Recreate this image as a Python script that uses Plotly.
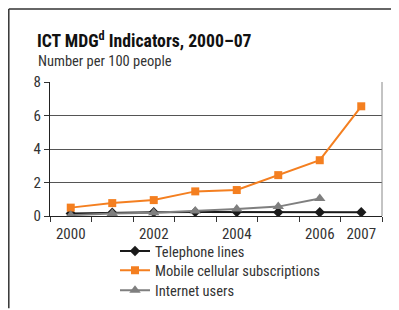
import plotly.graph_objects as go

years = [2000, 2001, 2002, 2003, 2004, 2005, 2006, 2007]
label_years = [2000, 2002, 2004, 2006, 2007]
telephone = [0.15, 0.2, 0.22, 0.24, 0.24, 0.22, 0.22, 0.22]
mobile = [0.5, 0.77, 0.95, 1.47, 1.55, 2.44, 3.33, 6.55]
internet = [0.05, 0.15, 0.2, 0.3, 0.42, 0.56, 1.04, None]
y_ticks = [0, 2, 4, 6, 8]

FONT = "Roboto Condensed, Liberation Sans Narrow, sans-serif"

OFF = 8  # page body margin
W, H = 399 - OFF, 310 - OFF
L, T = 50 - OFF, 82 - OFF
R = W - (382 - OFF)
B = H - (216.5 - OFF)
PW, PH = W - L - R, H - T - B


def px_x(x):  # page pixel -> paper
    return (x - OFF - L) / PW


def px_y(y):
    return (H - B - (y - OFF)) / PH


fig = go.Figure()
fig.add_trace(go.Scatter(x=years, y=telephone, name="Telephone lines", mode="lines+markers",
                         line=dict(color="#1a1a1a", width=2), legend="legend",
                         marker=dict(symbol="diamond", size=8, color="#1a1a1a")))
fig.add_trace(go.Scatter(x=years, y=mobile, name="Mobile cellular subscriptions", mode="lines+markers",
                         line=dict(color="#F47F20", width=2), legend="legend2",
                         marker=dict(symbol="square", size=8, color="#F47F20")))
fig.add_trace(go.Scatter(x=years, y=internet, name="Internet users", mode="lines+markers",
                         line=dict(color="#7F7F7F", width=2), legend="legend3",
                         marker=dict(symbol="triangle-up", size=10, color="#7F7F7F")))
# invisible trace to activate label axis
fig.add_trace(go.Scatter(x=years, y=mobile, xaxis="x2", showlegend=False, hoverinfo="skip",
                         mode="markers", marker=dict(opacity=0)))

boundaries = [y - 0.5 for y in years] + [years[-1] + 0.5]

leg_font = dict(family=FONT, size=14.5, color="#333333")
leg_common = dict(xanchor="left", yanchor="middle", bgcolor="rgba(0,0,0,0)", font=leg_font)

fig.update_layout(
    width=W, height=H,
    margin=dict(l=L, r=R, t=T, b=B, autoexpand=False),
    paper_bgcolor="white", plot_bgcolor="white",
    font=dict(family=FONT, size=14.5, color="#333333"),
    showlegend=True,
    legend=dict(x=px_x(115), y=px_y(251.7), **leg_common),
    legend2=dict(x=px_x(115), y=px_y(271), **leg_common),
    legend3=dict(x=px_x(115), y=px_y(291), **leg_common),
    xaxis=dict(range=[years[0] - 0.5, years[-1] + 0.5], tickmode="array", tickvals=boundaries,
               ticktext=["" for _ in boundaries], ticks="outside", ticklen=5, tickcolor="#333333",
               showgrid=False, zeroline=False, showline=True, linecolor="#222222", linewidth=1),
    xaxis2=dict(range=[years[0] - 0.5, years[-1] + 0.5], overlaying="x", side="bottom",
                tickmode="array", tickvals=label_years, ticktext=[str(v) for v in label_years],
                ticks="", showgrid=False, zeroline=False, showline=False, ticklabelstandoff=7,
                tickfont=dict(family=FONT, size=15, color="#333333")),
    yaxis=dict(range=[0, 8], tickmode="array", tickvals=y_ticks, ticks="outside", ticklen=5,
               tickcolor="#333333", showgrid=True, gridcolor="#555555", gridwidth=1,
               zeroline=False, showline=True, linecolor="#222222", linewidth=1,
               tickfont=dict(family=FONT, size=15, color="#333333")),
    shapes=[
        dict(type="line", xref="paper", yref="paper", x0=px_x(8.8), x1=px_x(8.8), y0=px_y(309),
             y1=px_y(8.8), line=dict(color="#333333", width=1.5), layer="below"),
        dict(type="line", xref="paper", yref="paper", x0=px_x(8.8), x1=px_x(398), y0=px_y(8.8),
             y1=px_y(8.8), line=dict(color="#333333", width=1.5), layer="below"),
        dict(type="line", xref="paper", yref="paper", x0=1, x1=1, y0=0, y1=1,
             line=dict(color="#888888", width=1)),
    ],
    annotations=[
        dict(xref="paper", yref="paper", x=px_x(35), y=px_y(53), xanchor="left", yanchor="bottom",
             text="<b>ICT MDG<sup>d</sup> Indicators, 2000–07</b>", showarrow=False,
             font=dict(family=FONT, size=17.7, color="#111111")),
        dict(xref="paper", yref="paper", x=px_x(36), y=px_y(72), xanchor="left", yanchor="bottom",
             text="Number per 100 people", showarrow=False,
             font=dict(family=FONT, size=14.5, color="#333333")),
    ],
)

fig.write_html("out.html")
